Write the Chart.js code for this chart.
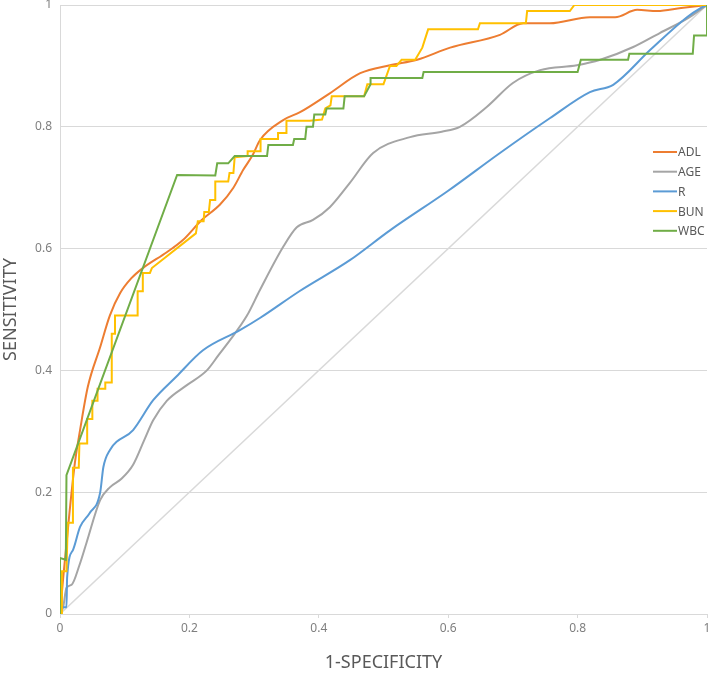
<!DOCTYPE html>
<html>
<head>
<meta charset="utf-8">
<script src="https://cdn.jsdelivr.net/npm/chart.js@4.4.0/dist/chart.umd.min.js"></script>
<style>
  html, body { margin: 0; padding: 0; background: #fff; }
  #wrap { width: 709px; height: 674px; position: relative; }
</style>
</head>
<body>
<div id="wrap"><canvas id="roc"></canvas></div>
<script>
// ROC curves, [1-specificity, sensitivity] pairs
const ADL = [[0,0],[0.005,0.06],[0.015,0.17],[0.023,0.248],[0.031,0.302],[0.043,0.373],[0.062,0.438],
  [0.077,0.49],[0.093,0.527],[0.11,0.551],[0.128,0.568],[0.165,0.594],[0.19,0.614],[0.219,0.647],[0.247,0.672],
  [0.268,0.7],[0.283,0.729],[0.298,0.754],[0.309,0.778],[0.345,0.811],[0.371,0.824],[0.417,0.855],
  [0.464,0.888],[0.51,0.901],[0.552,0.91],[0.603,0.93],[0.68,0.951],[0.716,0.97],[0.757,0.97],
  [0.819,0.98],[0.858,0.98],[0.892,0.992],[0.923,0.99],[0.96,0.995],[1,1]];

const AGE = [[0,0],[0.005,0.012],[0.01,0.043],[0.018,0.048],[0.03,0.08],[0.041,0.117],[0.062,0.187],
  [0.077,0.208],[0.095,0.222],[0.113,0.245],[0.13,0.285],[0.144,0.318],[0.165,0.35],[0.195,0.375],[0.227,0.4],
  [0.245,0.425],[0.263,0.45],[0.289,0.49],[0.309,0.532],[0.345,0.603],[0.366,0.635],[0.391,0.647],
  [0.417,0.668],[0.448,0.708],[0.484,0.757],[0.541,0.783],[0.59,0.792],[0.618,0.8],[0.66,0.833],
  [0.7,0.872],[0.742,0.893],[0.799,0.901],[0.835,0.91],[0.886,0.931],[0.927,0.954],[0.97,0.978],[1,1]];

const R = [[0,0],[0.001,0.011],[0.01,0.011],[0.011,0.06],[0.02,0.105],[0.031,0.143],[0.046,0.166],
  [0.062,0.199],[0.067,0.241],[0.077,0.269],[0.113,0.302],[0.144,0.351],[0.18,0.39],[0.221,0.433],
  [0.278,0.466],[0.309,0.486],[0.37,0.53],[0.448,0.581],[0.51,0.63],[0.6,0.695],[0.68,0.757],
  [0.757,0.814],[0.819,0.857],[0.855,0.869],[0.912,0.926],[0.969,0.98],[0.99,0.995],[1,1]];

const BUN = [[0,0],[0.003,0],[0.003,0.07],[0.01,0.07],[0.012,0.15],[0.02,0.15],[0.02,0.24],[0.029,0.24],
  [0.03,0.28],[0.042,0.28],[0.042,0.32],[0.05,0.32],[0.05,0.35],[0.058,0.35],[0.058,0.37],[0.07,0.37],
  [0.07,0.38],[0.08,0.38],[0.08,0.46],[0.085,0.46],[0.085,0.49],[0.12,0.49],[0.12,0.53],[0.128,0.53],
  [0.128,0.56],[0.139,0.56],[0.142,0.568],[0.21,0.625],[0.213,0.645],[0.222,0.645],[0.223,0.66],
  [0.23,0.66],[0.232,0.68],[0.24,0.68],[0.24,0.71],[0.26,0.71],[0.262,0.724],[0.268,0.724],
  [0.27,0.75],[0.29,0.752],[0.29,0.76],[0.31,0.76],[0.31,0.78],[0.337,0.78],[0.337,0.79],[0.35,0.79],
  [0.35,0.81],[0.386,0.81],[0.405,0.812],[0.41,0.83],[0.418,0.835],[0.42,0.85],[0.47,0.85],
  [0.475,0.87],[0.5,0.87],[0.51,0.9],[0.52,0.9],[0.528,0.91],[0.549,0.91],[0.56,0.93],[0.569,0.96],
  [0.646,0.96],[0.649,0.97],[0.72,0.97],[0.722,0.99],[0.788,0.99],[0.795,1],[1,1]];

const WBC = [[0,0],[0,0.092],[0.009,0.089],[0.01,0.228],[0.181,0.721],[0.24,0.72],[0.243,0.74],
  [0.26,0.74],[0.27,0.752],[0.32,0.752],[0.322,0.77],[0.36,0.77],[0.362,0.78],[0.379,0.78],
  [0.381,0.8],[0.391,0.8],[0.393,0.82],[0.41,0.82],[0.412,0.83],[0.438,0.83],[0.44,0.85],[0.47,0.85],
  [0.48,0.87],[0.48,0.88],[0.56,0.88],[0.562,0.89],[0.8,0.89],[0.805,0.91],[0.878,0.91],[0.88,0.92],
  [0.978,0.92],[0.98,0.95],[1,0.95],[1,1]];

const REF = [[0,0],[1,1]];

const names = ['ADL', 'AGE', 'R', 'BUN', 'WBC'];
const colors = ['#ED7D31', '#A5A5A5', '#5B9BD5', '#FFC000', '#70AD47'];
const tickLabels = ['0', '0.2', '0.4', '0.6', '0.8', '1'];

const font = '"Noto Sans", "DejaVu Sans", sans-serif';
const pts = arr => arr.map(p => ({ x: p[0], y: p[1] }));

function series(i, data, smooth) {
  return {
    label: names[i],
    data: pts(data),
    borderColor: colors[i],
    backgroundColor: colors[i],
    borderWidth: 2,
    pointRadius: 0,
    fill: false,
    tension: 0,
    cubicInterpolationMode: smooth ? 'monotone' : 'default',
    order: 4 - i
  };
}

// legend sits inside the plot on the right, so it is drawn by hand
const sideLegend = {
  id: 'sideLegend',
  afterDraw(chart) {
    const ctx = chart.ctx;
    ctx.save();
    ctx.font = '12px ' + font;
    ctx.textBaseline = 'middle';
    names.forEach((n, i) => {
      const y = 152 + i * 19.7;
      ctx.strokeStyle = colors[i];
      ctx.lineWidth = 2;
      ctx.beginPath();
      ctx.moveTo(653, y);
      ctx.lineTo(677, y);
      ctx.stroke();
      ctx.fillStyle = '#595959';
      ctx.fillText(n, 678, y + 1);
    });
    ctx.restore();
  }
};

const tickFmt = v => tickLabels[Math.round(v * 5)];

new Chart(document.getElementById('roc'), {
  type: 'line',
  data: {
    datasets: [
      series(0, ADL, true),
      series(1, AGE, true),
      series(2, R, true),
      series(3, BUN, false),
      series(4, WBC, false),
      {
        label: 'ref',
        data: pts(REF),
        borderColor: '#d9d9d9',
        borderWidth: 1.5,
        pointRadius: 0,
        tension: 0,
        order: 10
      }
    ]
  },
  options: {
    responsive: true,
    maintainAspectRatio: false,
    animation: false,
    layout: { padding: { top: 5, right: 2, bottom: 0, left: 0 } },
    plugins: { legend: { display: false }, tooltip: { enabled: false } },
    scales: {
      x: {
        type: 'linear',
        min: 0,
        max: 1,
        ticks: { stepSize: 0.2, callback: tickFmt, color: '#7f7f7f', padding: 3, maxRotation: 0,
          font: { family: font, size: 12 } },
        grid: { drawOnChartArea: false, drawTicks: true, tickLength: 4, color: '#d9d9d9' },
        border: { color: '#d9d9d9' },
        title: { display: true, text: '1-SPECIFICITY', color: '#595959', padding: 0,
          font: { family: font, size: 18 } },
        afterFit(s) { s.height = 60; s.paddingLeft = 0; s.paddingRight = 0; }
      },
      y: {
        type: 'linear',
        min: 0,
        max: 1,
        ticks: { stepSize: 0.2, callback: tickFmt, color: '#7f7f7f', padding: 8,
          font: { family: font, size: 12 } },
        grid: { drawTicks: false, color: '#d9d9d9' },
        border: { color: '#d9d9d9' },
        title: { display: true, text: 'SENSITIVITY', color: '#595959', padding: 0,
          font: { family: font, size: 18 } },
        afterFit(s) { s.width = 60; s.paddingTop = 0; s.paddingBottom = 0; }
      }
    }
  },
  plugins: [sideLegend]
});
</script>
</body>
</html>
